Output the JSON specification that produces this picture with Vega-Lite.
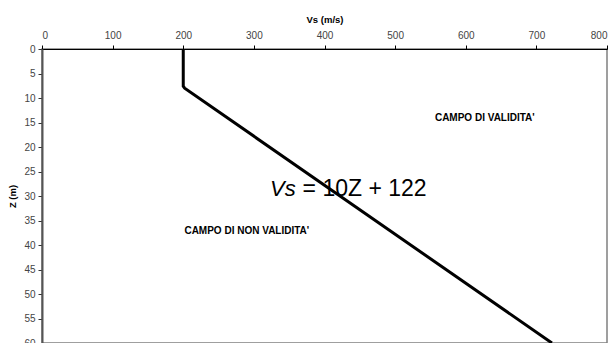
{
  "$schema": "https://vega.github.io/schema/vega-lite/v6.json",
  "autosize": "none",
  "width": 565,
  "height": 294,
  "padding": {"left": 42, "top": 49, "right": 9, "bottom": 0},
  "background": "white",
  "config": {
    "view": {"stroke": "#808080", "strokeWidth": 1.5},
    "font": "Liberation Sans"
  },
  "datasets": {
    "curve": [
      {"Vs": 200, "Z": 0},
      {"Vs": 200, "Z": 7.6},
      {"Vs": 202, "Z": 8},
      {"Vs": 722, "Z": 60}
    ],
    "labels": [
      {"Vs": 627, "Z": 14.1, "label": "CAMPO DI VALIDITA'"},
      {"Vs": 290, "Z": 37.1, "label": "CAMPO DI NON VALIDITA'"}
    ],
    "formulaA": [{"Vs": 323, "Z": 30.0, "label": "Vs"}],
    "formulaB": [{"Vs": 369, "Z": 30.0, "label": "= 10Z + 122"}]
  },
  "encoding": {
    "x": {
      "field": "Vs", "type": "quantitative",
      "scale": {"domain": [0, 800], "nice": false},
      "axis": {
        "orient": "top", "title": "Vs (m/s)", "values": [0,100,200,300,400,500,600,700,800],
        "grid": false, "domainColor": "black", "domainWidth": 1, "tickColor": "black",
        "tickSize": 4, "labelFontSize": 10, "labelColor": "#444", "labelOverlap": false,
        "labelPadding": 5, "titleFontSize": 9.5, "titleFontWeight": "bold",
        "titleColor": "black", "titlePadding": 6, "labelFont": "Liberation Sans", "titleFont": "Liberation Sans"
      }
    },
    "y": {
      "field": "Z", "type": "quantitative",
      "scale": {"domain": [0, 60], "reverse": true, "nice": false},
      "axis": {
        "orient": "left", "title": "Z (m)", "values": [0,5,10,15,20,25,30,35,40,45,50,55,60],
        "tickCount": 13,
        "grid": false, "domainColor": "#555", "domainWidth": 2, "tickColor": "#333",
        "tickSize": 4, "labelFontSize": 10, "labelColor": "#444", "labelPadding": 3,
        "labelOverlap": false, "labelFlush": false,
        "titleFontSize": 9.5, "titleFontWeight": "bold", "titleColor": "black",
        "titlePadding": 6, "labelFont": "Liberation Sans", "titleFont": "Liberation Sans"
      }
    }
  },
  "layer": [
    {
      "data": {"name": "curve"},
      "mark": {"type": "line", "color": "black", "strokeWidth": 3, "clip": true},
      "encoding": {
        "order": {"field": "Z", "type": "quantitative"}
      }
    },
    {
      "data": {"name": "labels"},
      "mark": {"type": "text", "fontSize": 10, "fontWeight": "bold", "color": "black", "font": "Liberation Sans"},
      "encoding": {
        "text": {"field": "label"}
      }
    },
    {
      "data": {"name": "formulaA"},
      "mark": {"type": "text", "fontSize": 22, "fontStyle": "italic", "color": "black", "align": "left", "baseline": "alphabetic", "font": "Liberation Sans"},
      "encoding": {
        "text": {"field": "label"}
      }
    },
    {
      "data": {"name": "formulaB"},
      "mark": {"type": "text", "fontSize": 23, "color": "black", "align": "left", "baseline": "alphabetic", "font": "Liberation Sans"},
      "encoding": {
        "text": {"field": "label"}
      }
    }
  ]
}
